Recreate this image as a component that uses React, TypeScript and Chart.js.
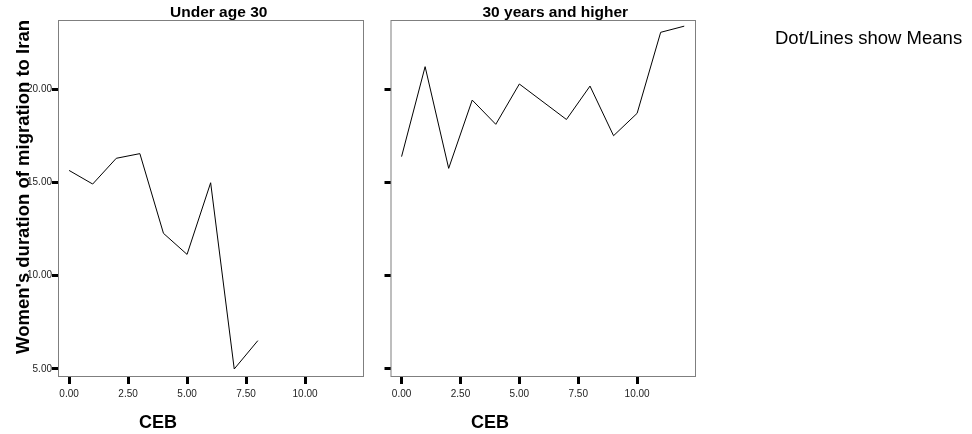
import React, { useEffect, useRef } from "react";
import { Chart, registerables } from "chart.js";

Chart.register(...registerables);

// ---- data ----
const cebUnder30 = [0, 1, 2, 3, 4, 5, 6, 7, 8];
const meanUnder30 = [15.64, 14.91, 16.29, 16.54, 12.27, 11.14, 14.98, 5.0, 6.52];
const ceb30Plus = [0, 1, 2, 3, 4, 5, 7, 8, 9, 10, 11, 12];
const mean30Plus = [16.38, 21.2, 15.75, 19.41, 18.11, 20.27, 18.37, 20.16, 17.5, 18.7, 23.04, 23.37];
const yTickValues = [5, 10, 15, 20];
const xTickValues = [0, 2.5, 5, 7.5, 10];
const panelTitles = ["Under age 30", "30 years and higher"];
const yAxisTitle = "Women's duration of migration to Iran";
const xAxisTitle = "CEB";
const noteText = "Dot/Lines show Means";

const FONT = "'Liberation Sans', Arial, Helvetica, sans-serif";
const H = 434;

type PanelProps = {
  xs: number[];
  ys: number[];
  title: string;
  width: number;
  left: number;
  yAxisWidth: number;
  padRight: number;
  showYLabels: boolean;
  titleX: number;
  cebX: number;
  drawYTitle: boolean;
  note?: { text: string; x: number; y: number };
};

function Panel(p: PanelProps) {
  const ref = useRef<HTMLCanvasElement | null>(null);
  useEffect(() => {
    if (!ref.current) return;
    const textPlugin = {
      id: "panelText",
      afterDraw(chart: any) {
        const ctx = chart.ctx as CanvasRenderingContext2D;
        const a = chart.chartArea;
        ctx.save();
        // frame
        ctx.strokeStyle = "#7f7f7f";
        ctx.lineWidth = 1;
        ctx.strokeRect(a.left + 0.5, a.top + 0.5, a.right - a.left - 1, a.bottom - a.top - 1);
        ctx.fillStyle = "#000";
        // panel title
        ctx.font = `bold 15.5px ${FONT}`;
        ctx.textAlign = "center";
        ctx.textBaseline = "middle";
        ctx.fillText(p.title, p.titleX, 13);
        // x title
        ctx.font = `bold 18px ${FONT}`;
        ctx.fillText(xAxisTitle, p.cebX, 423);
        // y title
        if (p.drawYTitle) {
          ctx.save();
          ctx.translate(24, 187);
          ctx.rotate(-Math.PI / 2);
          ctx.font = `bold 18.5px ${FONT}`;
          ctx.fillText(yAxisTitle, 0, 0);
          ctx.restore();
        }
        if (p.note) {
          ctx.font = `18.5px ${FONT}`;
          ctx.textAlign = "left";
          ctx.fillText(p.note.text, p.note.x, p.note.y);
        }
        ctx.restore();
      },
    };
    const chart = new Chart(ref.current, {
      type: "line",
      data: {
        datasets: [
          {
            data: p.xs.map((x, i) => ({ x, y: p.ys[i] })),
            borderColor: "#000",
            borderWidth: 1,
            pointRadius: 0,
            fill: false,
            tension: 0,
          },
        ],
      },
      options: {
        animation: false,
        responsive: false,
        devicePixelRatio: 1,
        layout: { padding: { left: 0, right: p.padRight, top: 20, bottom: 0 } },
        plugins: { legend: { display: false }, tooltip: { enabled: false }, title: { display: false } },
        scales: {
          x: {
            type: "linear",
            min: -0.47,
            max: 12.5,
            afterBuildTicks: (s: any) => {
              s.ticks = xTickValues.map((v) => ({ value: v }));
            },
            afterFit: (s: any) => {
              s.height = H - 377;
            },
            grid: { drawOnChartArea: false, drawTicks: true, tickLength: 7, tickWidth: 3, tickColor: "#000" },
            border: { display: false },
            ticks: {
              autoSkip: false,
              maxRotation: 0,
              padding: 4,
              color: "#222",
              font: { size: 10, family: FONT },
              callback: (v: any) => Number(v).toFixed(2),
            },
          },
          y: {
            type: "linear",
            min: 4.571,
            max: 23.7,
            afterBuildTicks: (s: any) => {
              s.ticks = yTickValues.map((v) => ({ value: v }));
            },
            afterFit: (s: any) => {
              s.width = p.yAxisWidth;
            },
            grid: { drawOnChartArea: false, drawTicks: true, tickLength: 6, tickWidth: 3, tickColor: "#000" },
            border: { display: false },
            ticks: {
              padding: 0,
              color: p.showYLabels ? "#222" : "rgba(0,0,0,0)",
              font: { size: 10, family: FONT },
              callback: (v: any) => Number(v).toFixed(2),
            },
          },
        },
      },
      plugins: [textPlugin],
    } as any);
    return () => chart.destroy();
  }, []);
  return (
    <canvas
      ref={ref}
      width={p.width}
      height={H}
      style={{ position: "absolute", left: p.left, top: 0, width: p.width, height: H, display: "block" }}
    />
  );
}

export default function App() {
  return (
    <div style={{ position: "absolute", left: 0, top: 0, width: 972, height: H, background: "#fff", overflow: "hidden" }}>
      <Panel
        xs={cebUnder30}
        ys={meanUnder30}
        title={panelTitles[0]}
        width={372}
        left={0}
        yAxisWidth={58}
        padRight={8}
        showYLabels={true}
        titleX={218.7}
        cebX={158}
        drawYTitle={true}
      />
      <Panel
        xs={ceb30Plus}
        ys={mean30Plus}
        title={panelTitles[1]}
        width={600}
        left={372}
        yAxisWidth={18.5}
        padRight={276}
        showYLabels={false}
        titleX={555.3 - 372}
        cebX={490 - 372}
        drawYTitle={false}
        note={{ text: noteText, x: 775 - 372, y: 38.5 }}
      />
    </div>
  );
}
